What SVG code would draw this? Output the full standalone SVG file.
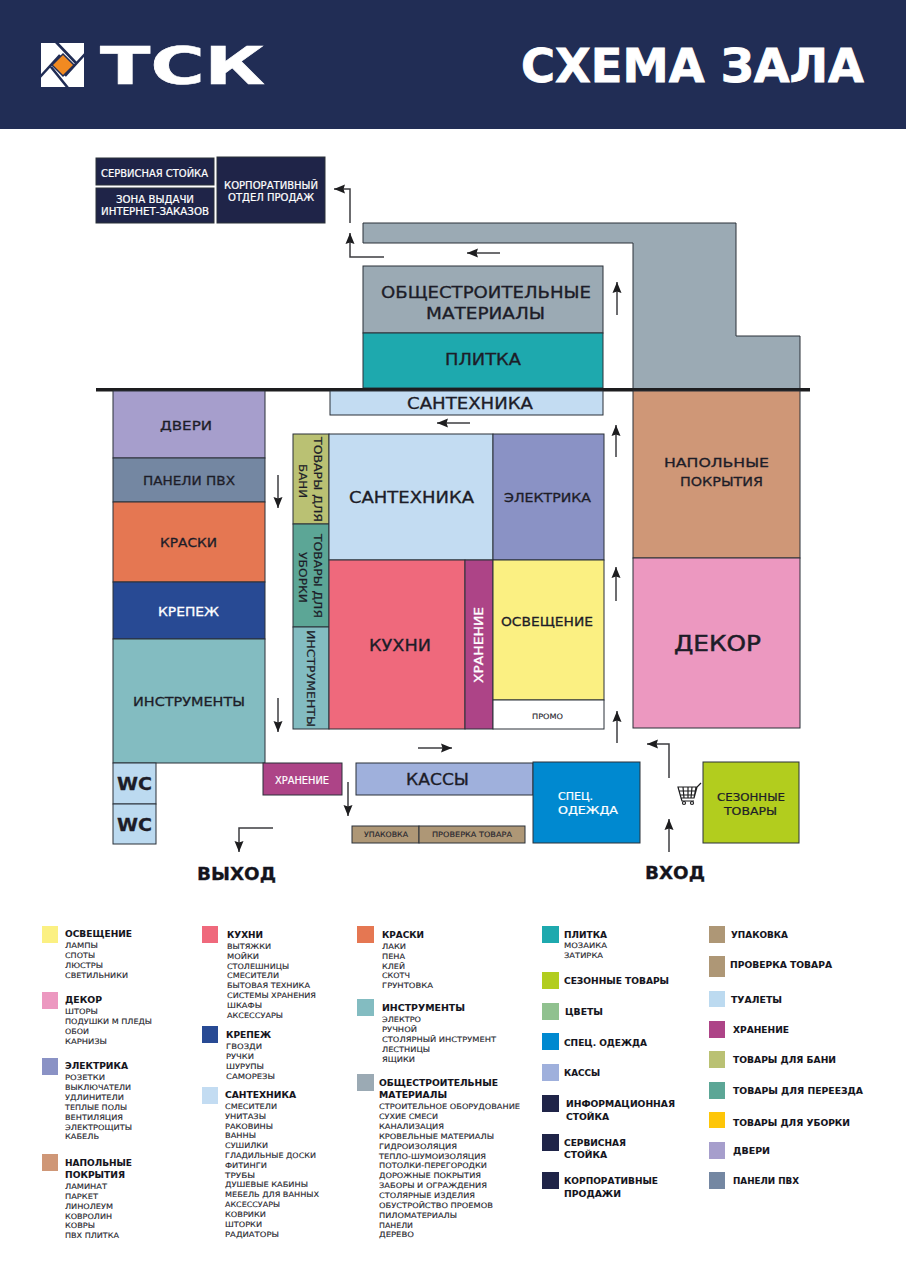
<svg xmlns="http://www.w3.org/2000/svg" width="906" height="1280" viewBox="0 0 906 1280">
<defs>
<marker id="ah" markerUnits="userSpaceOnUse" markerWidth="11" markerHeight="10" refX="11" refY="5" orient="auto"><path d="M0 0.5L11 5L0 9.500L1.500 5Z" fill="#1d1d1f"/></marker>
</defs>
<style>
text{font-family:"DejaVu Sans","Liberation Sans",sans-serif;fill:#1d1d28;stroke:#1d1d28;stroke-width:.3}
.n{stroke:#2a3038;stroke-width:1}
.s{stroke:none}
text.w{fill:#fff;stroke:#fff}
.a{font-size:15px}
.b{font-size:12.500px}
.c{font-size:10px;stroke-width:.2}
.i{font-size:7.500px;fill:#26262e;stroke:#26262e;stroke-width:.12}
.t{font-size:8.500px;font-weight:700;fill:#14141c;stroke-width:.1}
.h{font-weight:700;font-size:17px;fill:#14141c}
.ar{fill:none;stroke:#3c3c40;stroke-width:1.500;marker-end:url(#ah)}
</style>
<rect width="906" height="1280" fill="#fff"/>
<g id="header">
<rect width="906" height="129" fill="#212d55"/>
<rect x="41" y="43" width="43" height="44" fill="#fff"/>
<path d="M56 42L76 63M85 54L65 76M68 88L51 67M40 77L60 55" stroke="#212d55" stroke-width="2.600" fill="none"/>
<path d="M63 54L74 65L63 76L52 65Z" fill="#f18a21" stroke="#212d55" stroke-width="1.500"/>
<text x="100" y="84" font-size="51" font-weight="700" class="w" style="stroke-width:.6" textLength="165" lengthAdjust="spacingAndGlyphs">ТСК</text>
<text x="521" y="82" font-size="46" font-weight="700" class="w" style="stroke-width:.8" textLength="343" lengthAdjust="spacingAndGlyphs">СХЕМА ЗАЛА</text>
</g>
<g id="connectors">
<path class="ar" d="M350 223V189H334"/>
<path class="ar" d="M384 257H350V233"/>
<path class="ar" d="M500 253H467"/>
<path class="ar" d="M617 315V282"/>
<path class="ar" d="M470 423H437"/>
<path class="ar" d="M616 457V425"/>
<path class="ar" d="M616 601V567"/>
<path class="ar" d="M617 743V711"/>
<path class="ar" d="M278 475V508"/>
<path class="ar" d="M278 698V732"/>
<path class="ar" d="M418 748H452"/>
<path class="ar" d="M348 782V816"/>
<path class="ar" d="M273 828H239V852"/>
<path class="ar" d="M669 852V819"/>
<path class="ar" d="M669 778V744H647"/>
</g>
<g id="service-desk"><rect class="n" x="96" y="158" width="118" height="27" fill="#1f2448"/><text class="c w" x="101" y="176.500" textLength="107" lengthAdjust="spacingAndGlyphs">СЕРВИСНАЯ СТОЙКА</text></g>
<g id="pickup"><rect class="n" x="96" y="188" width="118" height="35" fill="#1f2448"/><text class="c w" x="116" y="203" textLength="78" lengthAdjust="spacingAndGlyphs">ЗОНА ВЫДАЧИ</text><text class="c w" x="101" y="215" textLength="108" lengthAdjust="spacingAndGlyphs">ИНТЕРНЕТ-ЗАКАЗОВ</text></g>
<g id="corporate"><rect class="n" x="217" y="157" width="108" height="66" fill="#1f2448"/><text class="c w" x="224" y="189" textLength="94" lengthAdjust="spacingAndGlyphs">КОРПОРАТИВНЫЙ</text><text class="c w" x="228" y="201" textLength="86" lengthAdjust="spacingAndGlyphs">ОТДЕЛ ПРОДАЖ</text></g>
<g id="grey-hall"><path class="n" d="M363 223H736V336H800V389H633V243H363Z" fill="#9baab4"/></g>
<g id="general-materials"><rect class="n" x="363" y="266" width="240" height="67" fill="#9baab4"/><text class="a" x="381" y="298" textLength="210" lengthAdjust="spacingAndGlyphs">ОБЩЕСТРОИТЕЛЬНЫЕ</text><text class="a" x="426" y="319" textLength="119" lengthAdjust="spacingAndGlyphs">МАТЕРИАЛЫ</text></g>
<g id="tile"><rect class="n" x="363" y="333" width="240" height="55" fill="#1ea9ae"/><text class="a" x="445" y="365" textLength="76" lengthAdjust="spacingAndGlyphs">ПЛИТКА</text></g>
<g id="wall"><rect x="96" y="388" width="714" height="3.500" fill="#1d1d1f"/></g>
<g id="plumbing-strip"><rect class="n" x="330" y="391" width="273" height="24" fill="#c3dcf2"/><text class="a" x="407" y="409" textLength="126" lengthAdjust="spacingAndGlyphs">САНТЕХНИКА</text></g>
<g id="flooring"><rect class="n" x="633" y="391" width="167" height="167" fill="#cf9777"/><text class="b" x="664" y="467" textLength="105" lengthAdjust="spacingAndGlyphs">НАПОЛЬНЫЕ</text><text class="b" x="680" y="486" textLength="83" lengthAdjust="spacingAndGlyphs">ПОКРЫТИЯ</text></g>
<g id="decor"><rect class="n" x="633" y="558" width="167" height="170" fill="#ec98c0"/><text x="674" y="651" font-size="22" style="stroke-width:.5" textLength="87" lengthAdjust="spacingAndGlyphs">ДЕКОР</text></g>
<g id="doors"><rect class="n" x="113" y="391" width="152" height="67" fill="#a69ecc"/><text class="b" x="160" y="430" textLength="52" lengthAdjust="spacingAndGlyphs">ДВЕРИ</text></g>
<g id="pvc"><rect class="n" x="113" y="458" width="152" height="44" fill="#7487a2"/><text class="b" x="143" y="485" textLength="92" lengthAdjust="spacingAndGlyphs">ПАНЕЛИ ПВХ</text></g>
<g id="paints"><rect class="n" x="113" y="502" width="152" height="80" fill="#e57752"/><text class="b" x="160" y="547" textLength="57" lengthAdjust="spacingAndGlyphs">КРАСКИ</text></g>
<g id="fasteners"><rect class="n" x="113" y="582" width="152" height="57" fill="#284a94"/><text class="b w" x="158" y="616" textLength="61" lengthAdjust="spacingAndGlyphs">КРЕПЕЖ</text></g>
<g id="tools"><rect class="n" x="113" y="639" width="152" height="124" fill="#83bcc1"/><text class="b" x="133" y="706" textLength="112" lengthAdjust="spacingAndGlyphs">ИНСТРУМЕНТЫ</text></g>
<g id="wc1"><rect class="n" x="113" y="763" width="43" height="41" fill="#bcdaf0"/><text x="117" y="790" font-size="18" font-weight="700" textLength="35" lengthAdjust="spacingAndGlyphs">WC</text></g>
<g id="wc2"><rect class="n" x="113" y="804" width="43" height="40" fill="#bcdaf0"/><text x="117" y="831" font-size="18" font-weight="700" textLength="35" lengthAdjust="spacingAndGlyphs">WC</text></g>
<g id="bath-goods"><rect class="n" x="293" y="434" width="36" height="90" fill="#bac173"/><text class="c" transform="translate(314 437) rotate(90)" textLength="85" lengthAdjust="spacingAndGlyphs">ТОВАРЫ ДЛЯ</text><text class="c" transform="translate(299 464) rotate(90)" textLength="34" lengthAdjust="spacingAndGlyphs">БАНИ</text></g>
<g id="cleaning-goods"><rect class="n" x="293" y="524" width="36" height="103" fill="#5ca696"/><text class="c" transform="translate(314 534) rotate(90)" textLength="84" lengthAdjust="spacingAndGlyphs">ТОВАРЫ ДЛЯ</text><text class="c" transform="translate(299 552) rotate(90)" textLength="51" lengthAdjust="spacingAndGlyphs">УБОРКИ</text></g>
<g id="tools-small"><rect class="n" x="293" y="627" width="36" height="102" fill="#83bcc1"/><text class="c" transform="translate(307 630) rotate(90)" textLength="97" lengthAdjust="spacingAndGlyphs">ИНСТРУМЕНТЫ</text></g>
<g id="plumbing"><rect class="n" x="329" y="434" width="164" height="126" fill="#c3dcf2"/><text class="a" x="349" y="503" textLength="125" lengthAdjust="spacingAndGlyphs">САНТЕХНИКА</text></g>
<g id="electrics"><rect class="n" x="493" y="434" width="111" height="126" fill="#8a92c5"/><text class="b" x="504" y="502" textLength="87" lengthAdjust="spacingAndGlyphs">ЭЛЕКТРИКА</text></g>
<g id="kitchens"><rect class="n" x="329" y="560" width="136" height="169" fill="#ef697c"/><text class="a" x="369" y="651" textLength="62" lengthAdjust="spacingAndGlyphs">КУХНИ</text></g>
<g id="storage"><rect class="n" x="465" y="560" width="28" height="169" fill="#ad4487"/><text class="b w" transform="translate(483 683) rotate(-90)" textLength="76" lengthAdjust="spacingAndGlyphs">ХРАНЕНИЕ</text></g>
<g id="lighting"><rect class="n" x="493" y="560" width="111" height="140" fill="#fbf082"/><text class="b" x="501" y="626" textLength="92" lengthAdjust="spacingAndGlyphs">ОСВЕЩЕНИЕ</text></g>
<g id="promo"><rect class="n" x="493" y="700" width="111" height="29" fill="#fff"/><text class="i" x="532" y="719" textLength="31" lengthAdjust="spacingAndGlyphs">ПРОМО</text></g>
<g id="storage2"><rect class="n" x="263" y="763" width="79" height="32" fill="#ad4487"/><text class="c w" x="275" y="784" textLength="54" lengthAdjust="spacingAndGlyphs">ХРАНЕНИЕ</text></g>
<g id="checkout"><rect class="n" x="356" y="763" width="177" height="32" fill="#9fb0dc"/><text class="a" x="406" y="785" textLength="63" lengthAdjust="spacingAndGlyphs">КАССЫ</text></g>
<g id="workwear"><rect class="n" x="533" y="762" width="107" height="81" fill="#0089d0"/><text class="c w" x="558" y="800" textLength="35" lengthAdjust="spacingAndGlyphs">СПЕЦ.</text><text class="c w" x="558" y="814" textLength="60" lengthAdjust="spacingAndGlyphs">ОДЕЖДА</text></g>
<g id="seasonal"><rect class="n" x="703" y="762" width="96" height="81" fill="#b2cd1e"/><text class="c" x="717" y="801" textLength="68" lengthAdjust="spacingAndGlyphs">СЕЗОННЫЕ</text><text class="c" x="724" y="815" textLength="53" lengthAdjust="spacingAndGlyphs">ТОВАРЫ</text></g>
<g id="packing"><rect class="n" x="352" y="826" width="67" height="17" fill="#ae9776"/><text class="i" x="364" y="837" textLength="44" lengthAdjust="spacingAndGlyphs">УПАКОВКА</text></g>
<g id="check"><rect class="n" x="419" y="826" width="106" height="17" fill="#ae9776"/><text class="i" x="432" y="837" textLength="80" lengthAdjust="spacingAndGlyphs">ПРОВЕРКА ТОВАРА</text></g>
<g id="exit"><text class="h" x="197" y="880" textLength="79" lengthAdjust="spacingAndGlyphs">ВЫХОД</text></g>
<g id="entrance"><text class="h" x="645" y="879" textLength="60" lengthAdjust="spacingAndGlyphs">ВХОД</text></g>
<g id="cart" fill="none" stroke="#1d1d1f" stroke-width="1.200"><path d="M678 787H696L694 798H681ZM679 791H695M680 795H695M683 787L684 798M688 787V798M692 787L691 798M694 798L697 787L701 783M681 798L682 801H694"/><circle cx="684" cy="803" r="1.500"/><circle cx="692" cy="803" r="1.500"/></g>
<g id="legend">
<g class="s">
<rect x="42" y="926" width="16" height="17" fill="#fbf082"/><rect x="42" y="992" width="16" height="17" fill="#ec98c0"/><rect x="42" y="1058" width="16" height="17" fill="#8a92c5"/><rect x="42" y="1154" width="16" height="17" fill="#cf9777"/>
<rect x="202" y="926" width="16" height="17" fill="#ef697c"/><rect x="202" y="1026" width="16" height="17" fill="#284a94"/><rect x="202" y="1087" width="16" height="17" fill="#c3dcf2"/>
<rect x="357" y="926" width="17" height="17" fill="#e57752"/><rect x="357" y="999" width="17" height="17" fill="#83bcc1"/><rect x="357" y="1074" width="17" height="17" fill="#9baab4"/>
<rect x="542" y="926" width="17" height="17" fill="#1ea9ae"/><rect x="542" y="972" width="17" height="17" fill="#b2cd1e"/><rect x="542" y="1003" width="17" height="17" fill="#90c18f"/><rect x="542" y="1033" width="17" height="17" fill="#0089d0"/><rect x="542" y="1064" width="17" height="17" fill="#9fb0dc"/><rect x="542" y="1095" width="17" height="17" fill="#1f2448"/><rect x="542" y="1134" width="17" height="17" fill="#1f2448"/><rect x="542" y="1172" width="17" height="17" fill="#1f2448"/>
<rect x="709" y="926" width="16" height="17" fill="#ae9776"/><rect x="709" y="956" width="16" height="21" fill="#ae9776"/><rect x="709" y="991" width="16" height="16" fill="#bcdaf0"/><rect x="709" y="1021" width="16" height="17" fill="#ad4487"/><rect x="709" y="1051" width="16" height="17" fill="#bac173"/><rect x="709" y="1082" width="16" height="17" fill="#5ca696"/><rect x="709" y="1112" width="16" height="16" fill="#fec608"/><rect x="709" y="1142" width="16" height="17" fill="#a69ecc"/><rect x="709" y="1172" width="16" height="17" fill="#7487a2"/>
</g>
<g>
<text class="t" x="65" y="937" textLength="67" lengthAdjust="spacingAndGlyphs">ОСВЕЩЕНИЕ</text>
<text class="i" x="65" y="948" textLength="33" lengthAdjust="spacingAndGlyphs">ЛАМПЫ</text>
<text class="i" x="65" y="958" textLength="30" lengthAdjust="spacingAndGlyphs">СПОТЫ</text>
<text class="i" x="65" y="968" textLength="38" lengthAdjust="spacingAndGlyphs">ЛЮСТРЫ</text>
<text class="i" x="65" y="978" textLength="63" lengthAdjust="spacingAndGlyphs">СВЕТИЛЬНИКИ</text>
<text class="t" x="65" y="1003" textLength="37" lengthAdjust="spacingAndGlyphs">ДЕКОР</text>
<text class="i" x="65" y="1014" textLength="33" lengthAdjust="spacingAndGlyphs">ШТОРЫ</text>
<text class="i" x="65" y="1024" textLength="87" lengthAdjust="spacingAndGlyphs">ПОДУШКИ М ПЛЕДЫ</text>
<text class="i" x="65" y="1034" textLength="24" lengthAdjust="spacingAndGlyphs">ОБОИ</text>
<text class="i" x="65" y="1044" textLength="42" lengthAdjust="spacingAndGlyphs">КАРНИЗЫ</text>
<text class="t" x="65" y="1069" textLength="63" lengthAdjust="spacingAndGlyphs">ЭЛЕКТРИКА</text>
<text class="i" x="65" y="1080" textLength="40" lengthAdjust="spacingAndGlyphs">РОЗЕТКИ</text>
<text class="i" x="65" y="1090" textLength="66" lengthAdjust="spacingAndGlyphs">ВЫКЛЮЧАТЕЛИ</text>
<text class="i" x="65" y="1100" textLength="59" lengthAdjust="spacingAndGlyphs">УДЛИНИТЕЛИ</text>
<text class="i" x="65" y="1110" textLength="62" lengthAdjust="spacingAndGlyphs">ТЕПЛЫЕ ПОЛЫ</text>
<text class="i" x="65" y="1120" textLength="58" lengthAdjust="spacingAndGlyphs">ВЕНТИЛЯЦИЯ</text>
<text class="i" x="65" y="1130" textLength="67" lengthAdjust="spacingAndGlyphs">ЭЛЕКТРОЩИТЫ</text>
<text class="i" x="65" y="1139" textLength="34" lengthAdjust="spacingAndGlyphs">КАБЕЛЬ</text>
<text class="t" x="65" y="1166" textLength="67" lengthAdjust="spacingAndGlyphs">НАПОЛЬНЫЕ</text>
<text class="t" x="65" y="1178" textLength="60" lengthAdjust="spacingAndGlyphs">ПОКРЫТИЯ</text>
<text class="i" x="65" y="1189" textLength="42" lengthAdjust="spacingAndGlyphs">ЛАМИНАТ</text>
<text class="i" x="65" y="1199" textLength="33" lengthAdjust="spacingAndGlyphs">ПАРКЕТ</text>
<text class="i" x="65" y="1209" textLength="48" lengthAdjust="spacingAndGlyphs">ЛИНОЛЕУМ</text>
<text class="i" x="65" y="1219" textLength="47" lengthAdjust="spacingAndGlyphs">КОВРОЛИН</text>
<text class="i" x="65" y="1228" textLength="30" lengthAdjust="spacingAndGlyphs">КОВРЫ</text>
<text class="i" x="65" y="1238" textLength="54" lengthAdjust="spacingAndGlyphs">ПВХ ПЛИТКА</text>
<text class="t" x="227" y="938" textLength="36" lengthAdjust="spacingAndGlyphs">КУХНИ</text>
<text class="i" x="227" y="949" textLength="44" lengthAdjust="spacingAndGlyphs">ВЫТЯЖКИ</text>
<text class="i" x="227" y="959" textLength="32" lengthAdjust="spacingAndGlyphs">МОЙКИ</text>
<text class="i" x="227" y="969" textLength="62" lengthAdjust="spacingAndGlyphs">СТОЛЕШНИЦЫ</text>
<text class="i" x="227" y="978" textLength="52" lengthAdjust="spacingAndGlyphs">СМЕСИТЕЛИ</text>
<text class="i" x="227" y="988" textLength="83" lengthAdjust="spacingAndGlyphs">БЫТОВАЯ ТЕХНИКА</text>
<text class="i" x="227" y="998" textLength="89" lengthAdjust="spacingAndGlyphs">СИСТЕМЫ ХРАНЕНИЯ</text>
<text class="i" x="227" y="1008" textLength="35" lengthAdjust="spacingAndGlyphs">ШКАФЫ</text>
<text class="i" x="227" y="1018" textLength="56" lengthAdjust="spacingAndGlyphs">АКСЕССУАРЫ</text>
<text class="t" x="226" y="1038" textLength="45" lengthAdjust="spacingAndGlyphs">КРЕПЕЖ</text>
<text class="i" x="226" y="1049" textLength="36" lengthAdjust="spacingAndGlyphs">ГВОЗДИ</text>
<text class="i" x="226" y="1059" textLength="28" lengthAdjust="spacingAndGlyphs">РУЧКИ</text>
<text class="i" x="226" y="1069" textLength="38" lengthAdjust="spacingAndGlyphs">ШУРУПЫ</text>
<text class="i" x="226" y="1079" textLength="49" lengthAdjust="spacingAndGlyphs">САМОРЕЗЫ</text>
<text class="t" x="225" y="1098" textLength="71" lengthAdjust="spacingAndGlyphs">САНТЕХНИКА</text>
<text class="i" x="225" y="1109" textLength="52" lengthAdjust="spacingAndGlyphs">СМЕСИТЕЛИ</text>
<text class="i" x="225" y="1119" textLength="41" lengthAdjust="spacingAndGlyphs">УНИТАЗЫ</text>
<text class="i" x="225" y="1129" textLength="48" lengthAdjust="spacingAndGlyphs">РАКОВИНЫ</text>
<text class="i" x="225" y="1138" textLength="31" lengthAdjust="spacingAndGlyphs">ВАННЫ</text>
<text class="i" x="225" y="1148" textLength="43" lengthAdjust="spacingAndGlyphs">СУШИЛКИ</text>
<text class="i" x="225" y="1158" textLength="91" lengthAdjust="spacingAndGlyphs">ГЛАДИЛЬНЫЕ ДОСКИ</text>
<text class="i" x="225" y="1168" textLength="42" lengthAdjust="spacingAndGlyphs">ФИТИНГИ</text>
<text class="i" x="225" y="1178" textLength="30" lengthAdjust="spacingAndGlyphs">ТРУБЫ</text>
<text class="i" x="225" y="1187" textLength="83" lengthAdjust="spacingAndGlyphs">ДУШЕВЫЕ КАБИНЫ</text>
<text class="i" x="225" y="1197" textLength="94" lengthAdjust="spacingAndGlyphs">МЕБЕЛЬ ДЛЯ ВАННЫХ</text>
<text class="i" x="225" y="1207" textLength="55" lengthAdjust="spacingAndGlyphs">АКСЕССУАРЫ</text>
<text class="i" x="225" y="1217" textLength="41" lengthAdjust="spacingAndGlyphs">КОВРИКИ</text>
<text class="i" x="225" y="1227" textLength="37" lengthAdjust="spacingAndGlyphs">ШТОРКИ</text>
<text class="i" x="225" y="1237" textLength="54" lengthAdjust="spacingAndGlyphs">РАДИАТОРЫ</text>
<text class="t" x="382" y="938" textLength="42" lengthAdjust="spacingAndGlyphs">КРАСКИ</text>
<text class="i" x="382" y="949" textLength="24" lengthAdjust="spacingAndGlyphs">ЛАКИ</text>
<text class="i" x="382" y="959" textLength="23" lengthAdjust="spacingAndGlyphs">ПЕНА</text>
<text class="i" x="382" y="969" textLength="23" lengthAdjust="spacingAndGlyphs">КЛЕЙ</text>
<text class="i" x="382" y="978" textLength="28" lengthAdjust="spacingAndGlyphs">СКОТЧ</text>
<text class="i" x="382" y="988" textLength="51" lengthAdjust="spacingAndGlyphs">ГРУНТОВКА</text>
<text class="t" x="382" y="1011" textLength="83" lengthAdjust="spacingAndGlyphs">ИНСТРУМЕНТЫ</text>
<text class="i" x="382" y="1022" textLength="39" lengthAdjust="spacingAndGlyphs">ЭЛЕКТРО</text>
<text class="i" x="382" y="1032" textLength="35" lengthAdjust="spacingAndGlyphs">РУЧНОЙ</text>
<text class="i" x="382" y="1042" textLength="114" lengthAdjust="spacingAndGlyphs">СТОЛЯРНЫЙ ИНСТРУМЕНТ</text>
<text class="i" x="382" y="1052" textLength="48" lengthAdjust="spacingAndGlyphs">ЛЕСТНИЦЫ</text>
<text class="i" x="382" y="1062" textLength="33" lengthAdjust="spacingAndGlyphs">ЯЩИКИ</text>
<text class="t" x="379" y="1086" textLength="119" lengthAdjust="spacingAndGlyphs">ОБЩЕСТРОИТЕЛЬНЫЕ</text>
<text class="t" x="379" y="1098" textLength="68" lengthAdjust="spacingAndGlyphs">МАТЕРИАЛЫ</text>
<text class="i" x="379" y="1109" textLength="141" lengthAdjust="spacingAndGlyphs">СТРОИТЕЛЬНОЕ ОБОРУДОВАНИЕ</text>
<text class="i" x="379" y="1119" textLength="59" lengthAdjust="spacingAndGlyphs">СУХИЕ СМЕСИ</text>
<text class="i" x="379" y="1129" textLength="65" lengthAdjust="spacingAndGlyphs">КАНАЛИЗАЦИЯ</text>
<text class="i" x="379" y="1139" textLength="115" lengthAdjust="spacingAndGlyphs">КРОВЕЛЬНЫЕ МАТЕРИАЛЫ</text>
<text class="i" x="379" y="1149" textLength="78" lengthAdjust="spacingAndGlyphs">ГИДРОИЗОЛЯЦИЯ</text>
<text class="i" x="379" y="1159" textLength="107" lengthAdjust="spacingAndGlyphs">ТЕПЛО-ШУМОИЗОЛЯЦИЯ</text>
<text class="i" x="379" y="1168" textLength="108" lengthAdjust="spacingAndGlyphs">ПОТОЛКИ-ПЕРЕГОРОДКИ</text>
<text class="i" x="379" y="1178" textLength="102" lengthAdjust="spacingAndGlyphs">ДОРОЖНЫЕ ПОКРЫТИЯ</text>
<text class="i" x="379" y="1188" textLength="108" lengthAdjust="spacingAndGlyphs">ЗАБОРЫ И ОГРАЖДЕНИЯ</text>
<text class="i" x="379" y="1198" textLength="96" lengthAdjust="spacingAndGlyphs">СТОЛЯРНЫЕ ИЗДЕЛИЯ</text>
<text class="i" x="379" y="1208" textLength="114" lengthAdjust="spacingAndGlyphs">ОБУСТРОЙСТВО ПРОЕМОВ</text>
<text class="i" x="379" y="1218" textLength="78" lengthAdjust="spacingAndGlyphs">ПИЛОМАТЕРИАЛЫ</text>
<text class="i" x="379" y="1228" textLength="34" lengthAdjust="spacingAndGlyphs">ПАНЕЛИ</text>
<text class="i" x="379" y="1237" textLength="35" lengthAdjust="spacingAndGlyphs">ДЕРЕВО</text>
<text class="t" x="564" y="938" textLength="43" lengthAdjust="spacingAndGlyphs">ПЛИТКА</text>
<text class="i" x="564" y="948" textLength="43" lengthAdjust="spacingAndGlyphs">МОЗАИКА</text>
<text class="i" x="564" y="958" textLength="39" lengthAdjust="spacingAndGlyphs">ЗАТИРКА</text>
<text class="t" x="564" y="984" textLength="105" lengthAdjust="spacingAndGlyphs">СЕЗОННЫЕ ТОВАРЫ</text>
<text class="t" x="565" y="1015" textLength="38" lengthAdjust="spacingAndGlyphs">ЦВЕТЫ</text>
<text class="t" x="564" y="1046" textLength="83" lengthAdjust="spacingAndGlyphs">СПЕЦ. ОДЕЖДА</text>
<text class="t" x="564" y="1076" textLength="36" lengthAdjust="spacingAndGlyphs">КАССЫ</text>
<text class="t" x="566" y="1107" textLength="109" lengthAdjust="spacingAndGlyphs">ИНФОРМАЦИОННАЯ</text>
<text class="t" x="566" y="1120" textLength="43" lengthAdjust="spacingAndGlyphs">СТОЙКА</text>
<text class="t" x="564" y="1146" textLength="62" lengthAdjust="spacingAndGlyphs">СЕРВИСНАЯ</text>
<text class="t" x="564" y="1158" textLength="43" lengthAdjust="spacingAndGlyphs">СТОЙКА</text>
<text class="t" x="564" y="1184" textLength="94" lengthAdjust="spacingAndGlyphs">КОРПОРАТИВНЫЕ</text>
<text class="t" x="564" y="1197" textLength="57" lengthAdjust="spacingAndGlyphs">ПРОДАЖИ</text>
<text class="t" x="731" y="938" textLength="57" lengthAdjust="spacingAndGlyphs">УПАКОВКА</text>
<text class="t" x="730" y="968" textLength="102" lengthAdjust="spacingAndGlyphs">ПРОВЕРКА ТОВАРА</text>
<text class="t" x="731" y="1003" textLength="51" lengthAdjust="spacingAndGlyphs">ТУАЛЕТЫ</text>
<text class="t" x="733" y="1033" textLength="56" lengthAdjust="spacingAndGlyphs">ХРАНЕНИЕ</text>
<text class="t" x="733" y="1063" textLength="103" lengthAdjust="spacingAndGlyphs">ТОВАРЫ ДЛЯ БАНИ</text>
<text class="t" x="733" y="1094" textLength="130" lengthAdjust="spacingAndGlyphs">ТОВАРЫ ДЛЯ ПЕРЕЕЗДА</text>
<text class="t" x="733" y="1126" textLength="117" lengthAdjust="spacingAndGlyphs">ТОВАРЫ ДЛЯ УБОРКИ</text>
<text class="t" x="733" y="1154" textLength="37" lengthAdjust="spacingAndGlyphs">ДВЕРИ</text>
<text class="t" x="733" y="1184" textLength="66" lengthAdjust="spacingAndGlyphs">ПАНЕЛИ ПВХ</text>
</g>
</g>
</svg>
